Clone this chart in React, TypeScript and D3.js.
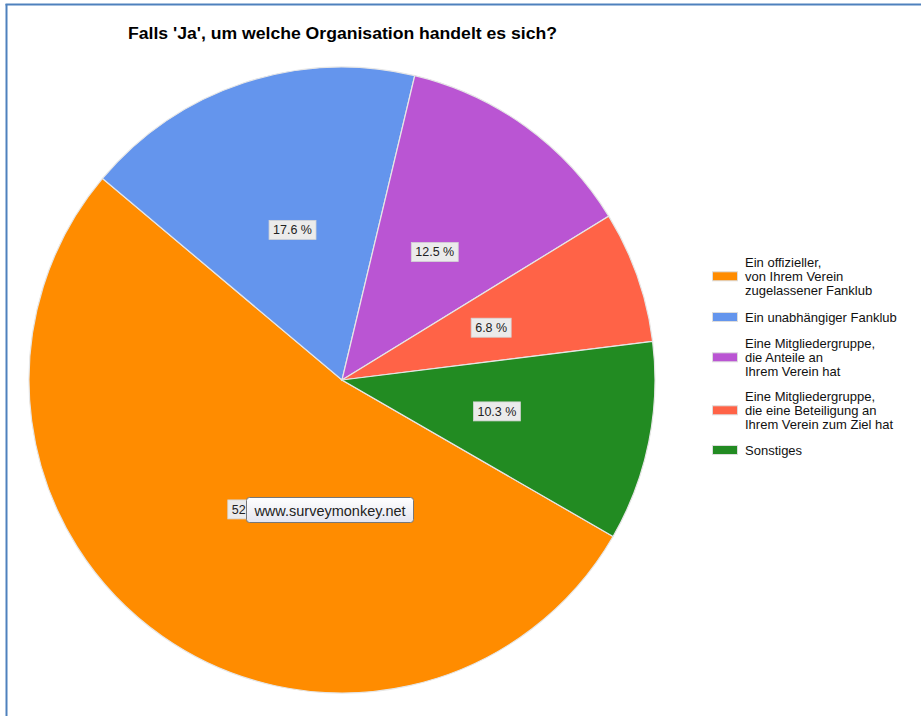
import React, { useEffect, useRef } from "react";
import * as d3 from "d3";

const title = "Falls 'Ja', um welche Organisation handelt es sich?";
const categories = [
  ["Ein offizieller,", "von Ihrem Verein", "zugelassener Fanklub"],
  ["Ein unabhängiger Fanklub"],
  ["Eine Mitgliedergruppe,", "die Anteile an", "Ihrem Verein hat"],
  ["Eine Mitgliedergruppe,", "die eine Beteiligung an", "Ihrem Verein zum Ziel hat"],
  ["Sonstiges"],
];
const values = [52.8, 17.6, 12.5, 6.8, 10.3];
const labels = ["52.8 %", "17.6 %", "12.5 %", "6.8 %", "10.3 %"];
const colors = ["#FF8C00", "#6495ED", "#BA55D3", "#FF6347", "#228B22"];
const watermark = "www.surveymonkey.net";

export default function App() {
  const ref = useRef<SVGSVGElement>(null);
  useEffect(() => {
    const svg = d3.select(ref.current);
    svg.selectAll("*").remove();
    const W = 921, H = 716;
    const cx = 342, cy = 380, R = 313;
    const font = "'Liberation Sans', Arial, sans-serif";

    svg.append("rect").attr("width", W).attr("height", H).attr("fill", "#fff");
    // frame
    svg.append("line").attr("x1", 5.5).attr("x2", W).attr("y1", 4.5).attr("y2", 4.5)
      .attr("stroke", "#4F81BD").attr("stroke-width", 2);
    svg.append("line").attr("x1", 6.5).attr("x2", 6.5).attr("y1", 4).attr("y2", H)
      .attr("stroke", "#4F81BD").attr("stroke-width", 2);

    svg.append("text").attr("x", 128).attr("y", 39)
      .attr("font-family", font).attr("font-weight", "bold").attr("font-size", 16)
      .attr("textLength", 429).attr("lengthAdjust", "spacingAndGlyphs")
      .attr("fill", "#000").text(title);

    const start = (120 * Math.PI) / 180;
    const pie = d3.pie<number>().sort(null).value((d) => d)
      .startAngle(start).endAngle(start + 2 * Math.PI);
    const arcs = pie(values);
    const arc = d3.arc<d3.PieArcDatum<number>>().innerRadius(0).outerRadius(R);
    const g = svg.append("g").attr("transform", `translate(${cx},${cy})`);
    g.selectAll("path").data(arcs).enter().append("path")
      .attr("d", arc as any).attr("fill", (_, i) => colors[i])
      .attr("stroke", "#e6e6e6").attr("stroke-width", 1.2);

    const lr = R * 0.505;
    const lab = d3.arc<d3.PieArcDatum<number>>().innerRadius(lr).outerRadius(lr);
    arcs.forEach((a, i) => {
      const [x, y] = lab.centroid(a);
      const lg = g.append("g").attr("transform", `translate(${x},${y})`);
      const rect = lg.append("rect").attr("fill", "#EBEBEB").attr("stroke", "#d4d4d4").attr("stroke-width", 0.8);
      const t = lg.append("text").attr("text-anchor", "middle").attr("dy", "0.35em")
        .attr("font-family", font).attr("font-size", 12.5).attr("fill", "#222").text(labels[i]);
      const bb = (t.node() as SVGTextElement).getBBox();
      rect.attr("x", bb.x - 4).attr("y", -9.5).attr("width", bb.width + 8).attr("height", 19);
    });

    // watermark tooltip
    const defs = svg.append("defs");
    const grad = defs.append("linearGradient").attr("id", "wm").attr("x1", 0).attr("x2", 0).attr("y1", 0).attr("y2", 1);
    grad.append("stop").attr("offset", "0%").attr("stop-color", "#ffffff");
    grad.append("stop").attr("offset", "100%").attr("stop-color", "#e4e5f0");
    svg.append("rect").attr("x", 246.5).attr("y", 497.5).attr("width", 167).attr("height", 25).attr("rx", 3)
      .attr("fill", "url(#wm)").attr("stroke", "#777").attr("stroke-width", 1);
    svg.append("text").attr("x", 330).attr("y", 510.5).attr("dy", "0.35em").attr("text-anchor", "middle")
      .attr("font-family", font).attr("font-size", 14.5).attr("fill", "#222").text(watermark);

    // legend
    const legendTops = [262, 317, 343, 396, 450];
    categories.forEach((lines, i) => {
      const y0 = legendTops[i];
      const lh = 14.3;
      const mid = y0 + ((lines.length - 1) * lh) / 2;
      svg.append("rect").attr("x", 712.5).attr("y", mid - 4.5).attr("width", 25).attr("height", 9)
        .attr("fill", colors[i]).attr("stroke", "#ddd").attr("stroke-width", 1);
      lines.forEach((ln, j) => {
        svg.append("text").attr("x", 745).attr("y", y0 + j * lh).attr("dy", "0.35em")
          .attr("font-family", font).attr("font-size", 13).attr("fill", "#111").text(ln);
      });
    });
  }, []);
  return (
    <svg ref={ref} width={921} height={716}
      style={{ position: "absolute", left: 0, top: 0, display: "block" }} />
  );
}
